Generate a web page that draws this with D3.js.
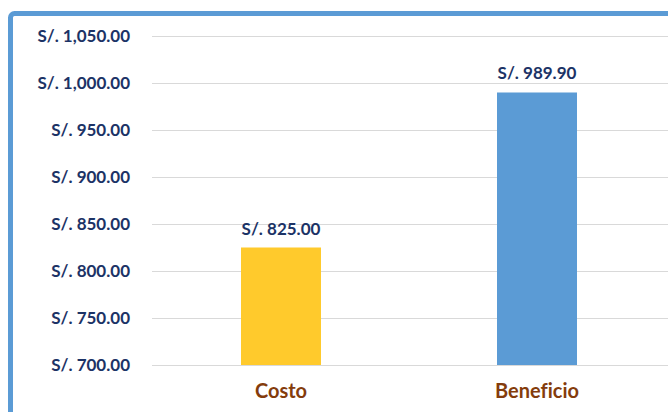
<!DOCTYPE html>
<html>
<head>
<meta charset='utf-8' />
<title>Costo vs Beneficio</title>
<style>
  html, body { margin: 0; padding: 0; background: #fff; }
  svg { display: block; font-variant-ligatures: none; }
  .tick text { font: bold 17px Lato, sans-serif; fill: #1c3366; }
  .cat text { font: bold 20px Lato, sans-serif; fill: #843c0c; font-variant-ligatures: none; }
  .val { font: bold 17px Lato, sans-serif; fill: #1c3366; }
</style>
</head>
<body>
<div id="chart"></div>
<script src="https://d3js.org/d3.v7.min.js"></script>
<script>
  const categories = ['Costo', 'Beneficio']
  const values = [825.00, 989.90]
  const colors = ['#ffca2c', '#5b9bd5']
  const yTicks = [700, 750, 800, 850, 900, 950, 1000, 1050]

  const W = 668, H = 412
  const svg = d3.select('#chart').append('svg')
    .attr('width', W).attr('height', H)

  // blue frame, runs off right and bottom
  svg.append('rect')
    .attr('x', 10.5).attr('y', 13.5)
    .attr('width', 700).attr('height', 450)
    .attr('rx', 4)
    .attr('fill', '#fff')
    .attr('stroke', '#5b9bd5')
    .attr('stroke-width', 5)

  const left = 153, right = 665
  const y = d3.scaleLinear().domain([700, 1050]).range([365, 36])
  const x = d3.scaleBand().domain(categories).range([left, right])
    .paddingInner(0.6875).paddingOuter(0.34375)

  const fmt = v => 'S/. ' + d3.format(',.2f')(v)

  // gridlines
  svg.append('g')
    .selectAll('line')
    .data(yTicks)
    .join('line')
    .attr('x1', 152).attr('x2', W)
    .attr('y1', d => Math.round(y(d)) + 0.5)
    .attr('y2', d => Math.round(y(d)) + 0.5)
    .attr('stroke', '#d9d9d9')
    .attr('stroke-width', 1)

  // y axis labels
  const yAxis = svg.append('g')
    .attr('transform', 'translate(152,0)')
    .call(d3.axisLeft(y).tickValues(yTicks).tickFormat(fmt).tickSize(0).tickPadding(22))
  yAxis.select('.domain').remove()
  yAxis.selectAll('.tick text').attr('font-family', null).attr('font-size', null).attr('fill', null)

  // bars
  svg.append('g')
    .selectAll('rect')
    .data(values)
    .join('rect')
    .attr('x', (d, i) => x(categories[i]))
    .attr('y', d => y(d))
    .attr('width', x.bandwidth())
    .attr('height', d => y(700) - y(d))
    .attr('fill', (d, i) => colors[i])

  // value labels
  svg.append('g')
    .selectAll('text')
    .data(values)
    .join('text')
    .attr('class', 'val')
    .attr('x', (d, i) => x(categories[i]) + x.bandwidth() / 2)
    .attr('y', d => y(d) - 13)
    .attr('text-anchor', 'middle')
    .text(fmt)

  // category axis
  const xAxis = svg.append('g')
    .attr('class', 'cat')
    .attr('transform', 'translate(0,' + y(700) + ')')
    .call(d3.axisBottom(x).tickSize(0).tickPadding(19))
  xAxis.select('.domain').remove()
  xAxis.selectAll('.tick text').attr('font-family', null).attr('font-size', null).attr('fill', null)
</script>
</body>
</html>
